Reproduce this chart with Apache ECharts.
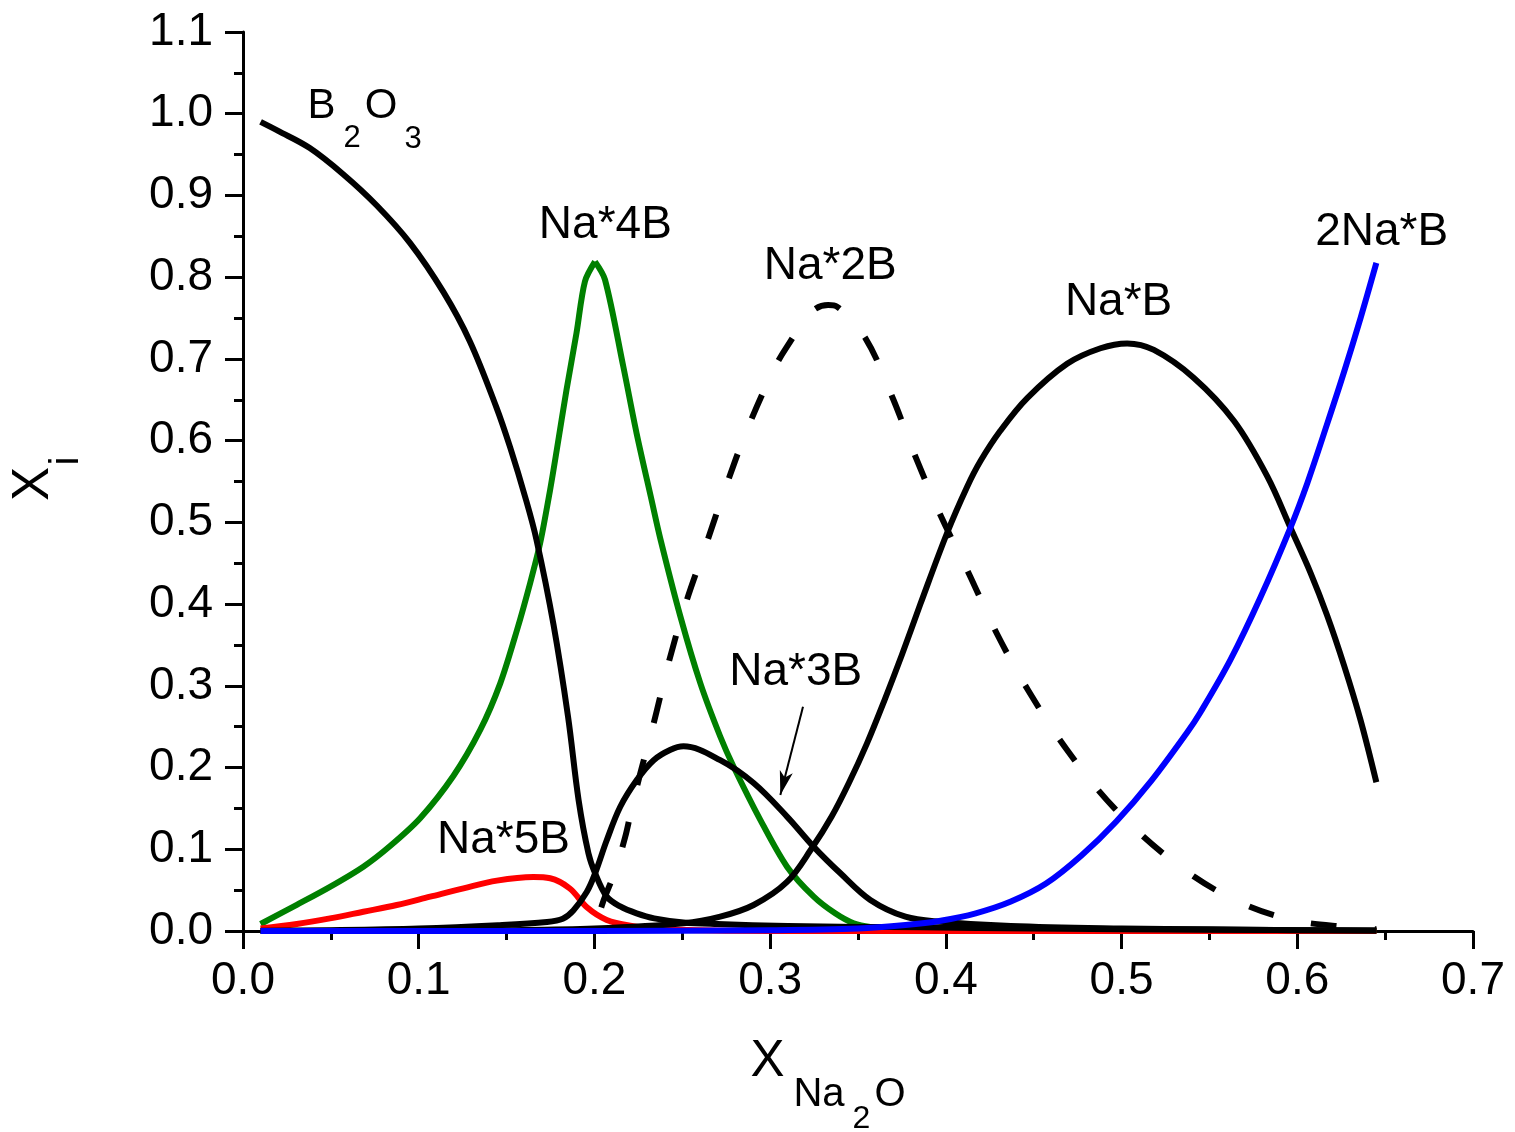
<!DOCTYPE html>
<html><head><meta charset="utf-8">
<script src="https://cdn.jsdelivr.net/npm/echarts@6/dist/echarts.min.js"></script>
<style>html,body{margin:0;padding:0;background:#fff;}#c{width:1515px;height:1132px;}</style>
</head><body><div id="c"></div>
<script>
// ---- data ----
const xTicks = [0.0, 0.1, 0.2, 0.3, 0.4, 0.5, 0.6, 0.7];
const yTicks = [0.0, 0.1, 0.2, 0.3, 0.4, 0.5, 0.6, 0.7, 0.8, 0.9, 1.0, 1.1];

const b2o3X = [0.01,0.02,0.038,0.057,0.076,0.095,0.114,0.129,0.144,0.152,0.161,0.167,0.1767,0.185,0.191,0.1966,0.2004,0.207,0.2147,0.224,0.234,0.2507,0.27,0.31,0.35,0.385,0.45,0.55,0.645];
const b2o3Y = [0.99,0.979,0.958,0.926,0.888,0.842,0.782,0.722,0.642,0.592,0.528,0.479,0.375,0.262,0.160,0.095,0.0706,0.042,0.030,0.0216,0.0155,0.0105,0.0085,0.006,0.005,0.0045,0.003,0.0015,0.0005];

const na5bX = [0.01,0.0306,0.0495,0.0685,0.0875,0.1065,0.1255,0.1445,0.1653,0.1748,0.186,0.1957,0.207,0.2204,0.24,0.3,0.4,0.5,0.6,0.645];
const na5bY = [0.003,0.0086,0.0155,0.0236,0.0318,0.042,0.0522,0.0616,0.066,0.0645,0.052,0.029,0.0135,0.0065,0.002,0,0,0,0,0];

const na4bX = [0.01,0.0306,0.0495,0.0685,0.0837,0.1008,0.1198,0.135,0.1464,0.1559,0.1634,0.1691,0.1748,0.1786,0.1841,0.1898,0.1946,0.2003,0.206,0.2164,0.224,0.2325,0.2375,0.2489,0.2603,0.2716,0.2792,0.2944,0.3096,0.3248,0.337,0.3475,0.357,0.38,0.42,0.5,0.6,0.645];
const na4bY = [0.0086,0.032,0.054,0.0787,0.104,0.138,0.190,0.246,0.303,0.368,0.4256,0.4745,0.540,0.589,0.662,0.7316,0.7948,0.819,0.797,0.691,0.609,0.5275,0.48,0.385,0.303,0.238,0.201,0.136,0.0787,0.042,0.0216,0.0094,0.005,0.002,0.0005,0,0,0];
const na4bPeak = 17; // index of the sharp maximum

const na3bX = [0.01,0.05,0.1,0.145,0.173,0.182,0.188,0.1957,0.2004,0.207,0.2147,0.2242,0.2337,0.243,0.2507,0.2716,0.2906,0.3096,0.3248,0.340,0.357,0.377,0.397,0.437,0.5,0.55,0.6,0.645];
const na3bY = [0.0003,0.001,0.003,0.007,0.011,0.015,0.025,0.048,0.0706,0.111,0.152,0.185,0.209,0.2215,0.226,0.209,0.181,0.140,0.103,0.0706,0.038,0.0175,0.0114,0.006,0.003,0.002,0.001,0.0005];

const na2bX = [0.01,0.1,0.19,0.2,0.206,0.212,0.2175,0.2204,0.226,0.2337,0.2422,0.2517,0.2631,0.2745,0.2868,0.302,0.3096,0.3238,0.333,0.338,0.3542,0.3694,0.3827,0.3969,0.413,0.429,0.447,0.469,0.496,0.53,0.563,0.596,0.63,0.645];
const na2bY = [0,0,0.001,0.012,0.042,0.075,0.115,0.142,0.192,0.254,0.328,0.399,0.470,0.5418,0.613,0.6867,0.715,0.758,0.766,0.764,0.7255,0.654,0.5805,0.509,0.4378,0.364,0.294,0.2215,0.150,0.084,0.0394,0.0139,0.0045,0.002];

const nabX = [0.01,0.1,0.15,0.2,0.2507,0.2716,0.2906,0.3096,0.3238,0.335,0.345,0.355,0.365,0.375,0.3855,0.4007,0.412,0.4197,0.431,0.4463,0.469,0.488,0.5032,0.5184,0.541,0.564,0.583,0.596,0.6076,0.617,0.6266,0.636,0.645];
const nabY = [0,0.0005,0.001,0.003,0.0094,0.0175,0.0318,0.060,0.1015,0.14,0.182,0.229,0.282,0.338,0.400,0.487,0.543,0.575,0.612,0.652,0.694,0.713,0.719,0.711,0.677,0.624,0.556,0.494,0.438,0.386,0.325,0.258,0.182];

const na2X = [0.01,0.1,0.2,0.3,0.35,0.377,0.397,0.417,0.437,0.457,0.477,0.497,0.517,0.537,0.545,0.562,0.579,0.596,0.6057,0.617,0.6266,0.636,0.645];
const na2Y = [0,0,0,0.001,0.003,0.0073,0.0126,0.0216,0.036,0.058,0.092,0.134,0.184,0.242,0.268,0.332,0.408,0.493,0.548,0.6205,0.684,0.750,0.8175];

// curve annotations (text and anchor in data units)
const labelNames = ['Na*4B', 'Na*2B', 'Na*B', '2Na*B', 'Na*3B', 'Na*5B'];
const labelX = [0.2062, 0.3342, 0.4983, 0.648, 0.3146, 0.1482];
const labelY = [0.8632, 0.8139, 0.7687, 0.8543, 0.317, 0.1114];
const arrowFrom = [0.3187, 0.2745];
const arrowTo = [0.3058, 0.1665];

// ---- chart ----
const FONT = "'Liberation Sans', Arial, sans-serif";
const pairs = (xs, ys) => xs.map((x, i) => [x, ys[i]]);
const chart = echarts.init(document.getElementById('c'), null, {renderer: 'canvas'});

function lineSeries(name, data, color, extra) {
  return {
    name: name, type: 'line', data: data, showSymbol: false, symbol: 'none',
    smooth: extra && extra.smooth !== undefined ? extra.smooth : 0.35,
    silent: true, animation: false,
    lineStyle: Object.assign({color: color, width: 6, cap: 'butt', join: 'round', opacity: 1}, (extra && extra.lineStyle) || {})
  };
}

const axisCommon = {
  type: 'value',
  axisLine: {show: true, onZero: false, lineStyle: {color: '#000', width: 3}},
  axisTick: {show: true, inside: false, length: 18, lineStyle: {color: '#000', width: 3}},
  minorTick: {show: true, splitNumber: 2, length: 9, lineStyle: {color: '#000', width: 3}},
  splitLine: {show: false}, minorSplitLine: {show: false},
  axisLabel: {color: '#000', fontSize: 46, fontFamily: FONT, formatter: v => v.toFixed(1)}
};

function txt(str, x, y, size, rot) {
  const o = {type: 'text', x: x, y: y, silent: true,
    style: {text: str, fontSize: size, fontFamily: FONT, fill: '#000', align: 'center', verticalAlign: 'middle'}};
  if (rot) o.rotation = rot;
  return o;
}

const na4bData = pairs(na4bX, na4bY);

const option = {
  backgroundColor: '#fff',
  animation: false,
  grid: {left: 243, right: 42, top: 32, bottom: 201, containLabel: false, outerBoundsMode: 'none'},
  xAxis: Object.assign({}, axisCommon, {
    min: xTicks[0], max: xTicks[xTicks.length - 1], interval: 0.1,
    axisLabel: Object.assign({}, axisCommon.axisLabel, {margin: 27})
  }),
  yAxis: Object.assign({}, axisCommon, {
    min: yTicks[0], max: yTicks[yTicks.length - 1], interval: 0.1,
    axisLabel: Object.assign({}, axisCommon.axisLabel, {margin: 30})
  }),
  series: [
    lineSeries('Na*4B', na4bData.slice(0, na4bPeak + 1), '#008000', {smooth: 0.3}),
    lineSeries('Na*4B', na4bData.slice(na4bPeak), '#008000', {smooth: 0.3}),
    lineSeries('Na*5B', pairs(na5bX, na5bY), '#ff0000'),
    lineSeries('Na*2B', pairs(na2bX, na2bY), '#000', {lineStyle: {type: [26, 38], dashOffset: 32}}),
    lineSeries('B2O3', pairs(b2o3X, b2o3Y), '#000'),
    lineSeries('Na*3B', pairs(na3bX, na3bY), '#000'),
    lineSeries('Na*B', pairs(nabX, nabY), '#000'),
    lineSeries('2Na*B', pairs(na2X, na2Y), '#0000ff'),
    {
      type: 'scatter', symbolSize: 0, silent: true, animation: false,
      itemStyle: {opacity: 1, color: '#000'},
      data: labelNames.map((n, i) => ({name: n, value: [labelX[i], labelY[i]]})),
      label: {show: true, position: 'inside', formatter: '{b}', color: '#000', opacity: 1,
        textBorderWidth: 0, fontSize: 46, fontFamily: FONT},
      markLine: {
        silent: true, animation: false,
        symbol: ['none', 'arrow'], symbolSize: [10, 24],
        label: {show: false},
        lineStyle: {color: '#000', width: 2, type: 'solid', opacity: 1},
        data: [[{coord: arrowFrom}, {coord: arrowTo}]]
      }
    }
  ],
  graphic: [
    txt('B', 321.5, 106, 42), txt('2', 352, 138, 31), txt('O', 381, 106, 42), txt('3', 413, 139, 31),
    txt('X', 767.5, 1062, 51), txt('Na', 819, 1095, 40), txt('2', 861.5, 1119, 32), txt('O', 890, 1095, 40),
    txt('X', 34, 484, 51, Math.PI / 2), txt('i', 67, 461, 40, Math.PI / 2)
  ]
};
chart.setOption(option);
</script></body></html>
